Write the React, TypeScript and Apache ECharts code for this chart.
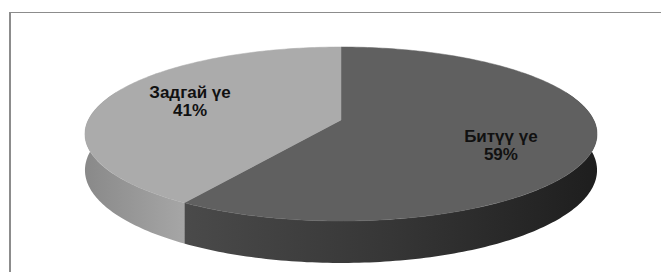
import React, { useEffect, useRef } from "react";
import * as echarts from "echarts";

const categories = ["Битүү үе", "Задгай үе"];
const values = [59, 41];
const percentLabels = ["59%", "41%"];

const topColors = ["#606060", "#ababab"];
const sideStops = [
  [
    { offset: 0, color: "#4a4a4a" },
    { offset: 0.5, color: "#363636" },
    { offset: 1, color: "#1e1e1e" },
  ],
  [
    { offset: 0, color: "#a6a6a6" },
    { offset: 1, color: "#898989" },
  ],
];

// 3D pie geometry (perspective)
const CX = 341;
const CY = 120;
const A = 252.7;
const B = 84.75;
const K = 0.161;
const D = 35.2;

function proj(phi: number, r: number, dz: number): number[] {
  const u = r * Math.sin(phi);
  const v = -r * Math.cos(phi);
  const w = 1 - K * v;
  return [CX + (A * u) / w, CY + (B * v) / w + (dz * D) / w];
}

function arc(a0: number, a1: number, r: number, dz: number): number[][] {
  const pts: number[][] = [];
  const n = Math.max(2, Math.ceil(((a1 - a0) * 180) / Math.PI));
  for (let i = 0; i <= n; i++) {
    pts.push(proj(a0 + ((a1 - a0) * i) / n, r, dz));
  }
  return pts;
}

export default function App() {
  const ref = useRef<HTMLDivElement>(null);

  useEffect(() => {
    if (!ref.current) return;
    const chart = echarts.init(ref.current, null, { renderer: "svg" });
    const total = values.reduce((s, v) => s + v, 0);
    const starts: number[] = [];
    let acc = 0;
    values.forEach((v) => {
      starts.push((acc / total) * Math.PI * 2);
      acc += v;
    });

    const option: any = {
      animation: false,
      backgroundColor: "#ffffff",
      graphic: [
        {
          type: "line",
          shape: { x1: 10, y1: 12, x2: 10, y2: 272 },
          style: { stroke: "#8c8c8c", lineWidth: 2 },
          silent: true,
        },
        {
          type: "line",
          shape: { x1: 9, y1: 12.5, x2: 661, y2: 12.5 },
          style: { stroke: "#8c8c8c", lineWidth: 1 },
          silent: true,
        },
      ],
      series: [
        {
          type: "custom",
          coordinateSystem: "none",
          data: values.map((v, i) => ({ name: categories[i], value: v })),
          renderItem: (params: any, api: any) => {
            const i = params.dataIndex;
            const v = api.value(0);
            const a0 = starts[i];
            const a1 = a0 + (v / total) * Math.PI * 2;
            const children: any[] = [];

            // side wall (front part only)
            const s0 = Math.max(a0, (70 * Math.PI) / 180);
            const s1 = Math.min(a1, (290 * Math.PI) / 180);
            if (s1 > s0) {
              const topArc = arc(s0, s1, 1, 0);
              const botArc = arc(s0, s1, 1, 1).reverse();
              const xs = topArc.map((p) => p[0]);
              const xMin = Math.min(...xs);
              const xMax = Math.max(...xs);
              const stops =
                i === 0
                  ? sideStops[0]
                  : sideStops[1]
                      .slice()
                      .reverse()
                      .map((s) => ({ offset: 1 - s.offset, color: s.color }));
              children.push({
                type: "polygon",
                shape: { points: topArc.concat(botArc) },
                style: {
                  fill: new echarts.graphic.LinearGradient(xMin, 0, xMax, 0, stops, true),
                  stroke: "none",
                },
              });
            }

            // top face
            const center = proj(0, 0, 0);
            children.push({
              type: "polygon",
              shape: { points: [center].concat(arc(a0, a1, 1, 0)) },
              style: { fill: topColors[i], stroke: topColors[i], lineWidth: 0.5 },
            });

            // label
            const mid = (a0 + a1) / 2;
            const lp = proj(mid, 0.64, 0);
            const ly = lp[1] + (lp[1] - CY) * 0.45 + 3;
            children.push({
              type: "text",
              style: {
                text: categories[i] + "\n" + percentLabels[i],
                x: lp[0],
                y: ly,
                align: "center",
                verticalAlign: "middle",
                font: 'bold 17px "Liberation Sans"',
                lineHeight: 18,
                fill: "#111111",
              },
            });

            return { type: "group", children };
          },
        },
      ],
    };
    chart.setOption(option);
    return () => chart.dispose();
  }, []);

  return (
    <div
      ref={ref}
      style={{ position: "fixed", left: 0, top: 0, width: 661, height: 272 }}
    />
  );
}
